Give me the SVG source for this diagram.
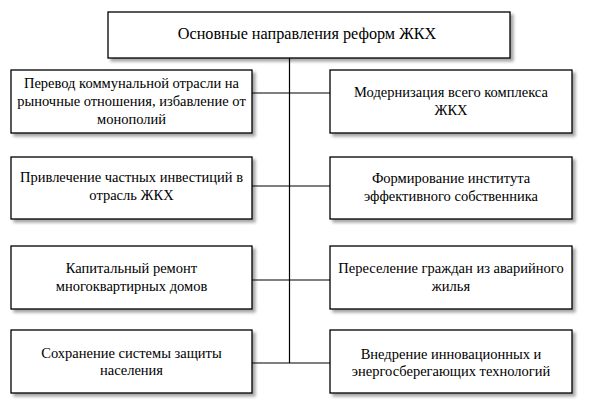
<svg xmlns="http://www.w3.org/2000/svg" width="589" height="404" viewBox="0 0 589 404">
<defs>
<filter id="sh" x="-10%" y="-20%" width="120%" height="150%">
<feDropShadow dx="3" dy="3" stdDeviation="1.5" flood-color="#000" flood-opacity="0.35"/>
</filter>
</defs>
<style>
.box{fill:#fff;stroke:#000;stroke-width:1.3;filter:url(#sh)}
text{font-family:'Liberation Serif','Times New Roman',serif;font-size:14.5px;fill:#000;text-anchor:middle}
.tt{font-size:16.2px}
.c{stroke:#000;stroke-width:1.2;fill:none}
</style>
<rect width="589" height="404" fill="#fff"/>
<g id="connectors">
<path class="c" d="M289.5 58V363M252 93H330M252 186H330M252 280H330M252 363H330"/>
</g>
<g id="title">
<rect class="box" x="108" y="12" width="402" height="46"/>
<text class="tt" x="307" y="39">Основные направления реформ ЖКХ</text>
</g>
<g id="l1">
<rect class="box" x="11" y="70" width="241" height="63"/>
<text x="131.5" y="88">Перевод коммунальной отрасли на</text>
<text x="131.5" y="106">рыночные отношения, избавление от</text>
<text x="131.5" y="124">монополий</text>
</g>
<g id="l2">
<rect class="box" x="11" y="157" width="241" height="62"/>
<text x="131.5" y="182">Привлечение частных инвестиций в</text>
<text x="131.5" y="200">отрасль ЖКХ</text>
</g>
<g id="l3">
<rect class="box" x="11" y="246" width="241" height="63"/>
<text x="131.5" y="273">Капитальный ремонт</text>
<text x="131.5" y="291">многоквартирных домов</text>
</g>
<g id="l4">
<rect class="box" x="11" y="330" width="241" height="63"/>
<text x="131.5" y="358">Сохранение системы защиты</text>
<text x="131.5" y="375">населения</text>
</g>
<g id="r1">
<rect class="box" x="330" y="70" width="242" height="63"/>
<text x="451" y="97">Модернизация всего комплекса</text>
<text x="451" y="115">ЖКХ</text>
</g>
<g id="r2">
<rect class="box" x="330" y="157" width="242" height="62"/>
<text x="451" y="183">Формирование института</text>
<text x="451" y="201">эффективного собственника</text>
</g>
<g id="r3">
<rect class="box" x="330" y="246" width="242" height="63"/>
<text x="451" y="273">Переселение граждан из аварийного</text>
<text x="451" y="291">жилья</text>
</g>
<g id="r4">
<rect class="box" x="330" y="330" width="242" height="63"/>
<text x="451" y="359">Внедрение инновационных и</text>
<text x="451" y="376">энергосберегающих технологий</text>
</g>
</svg>
